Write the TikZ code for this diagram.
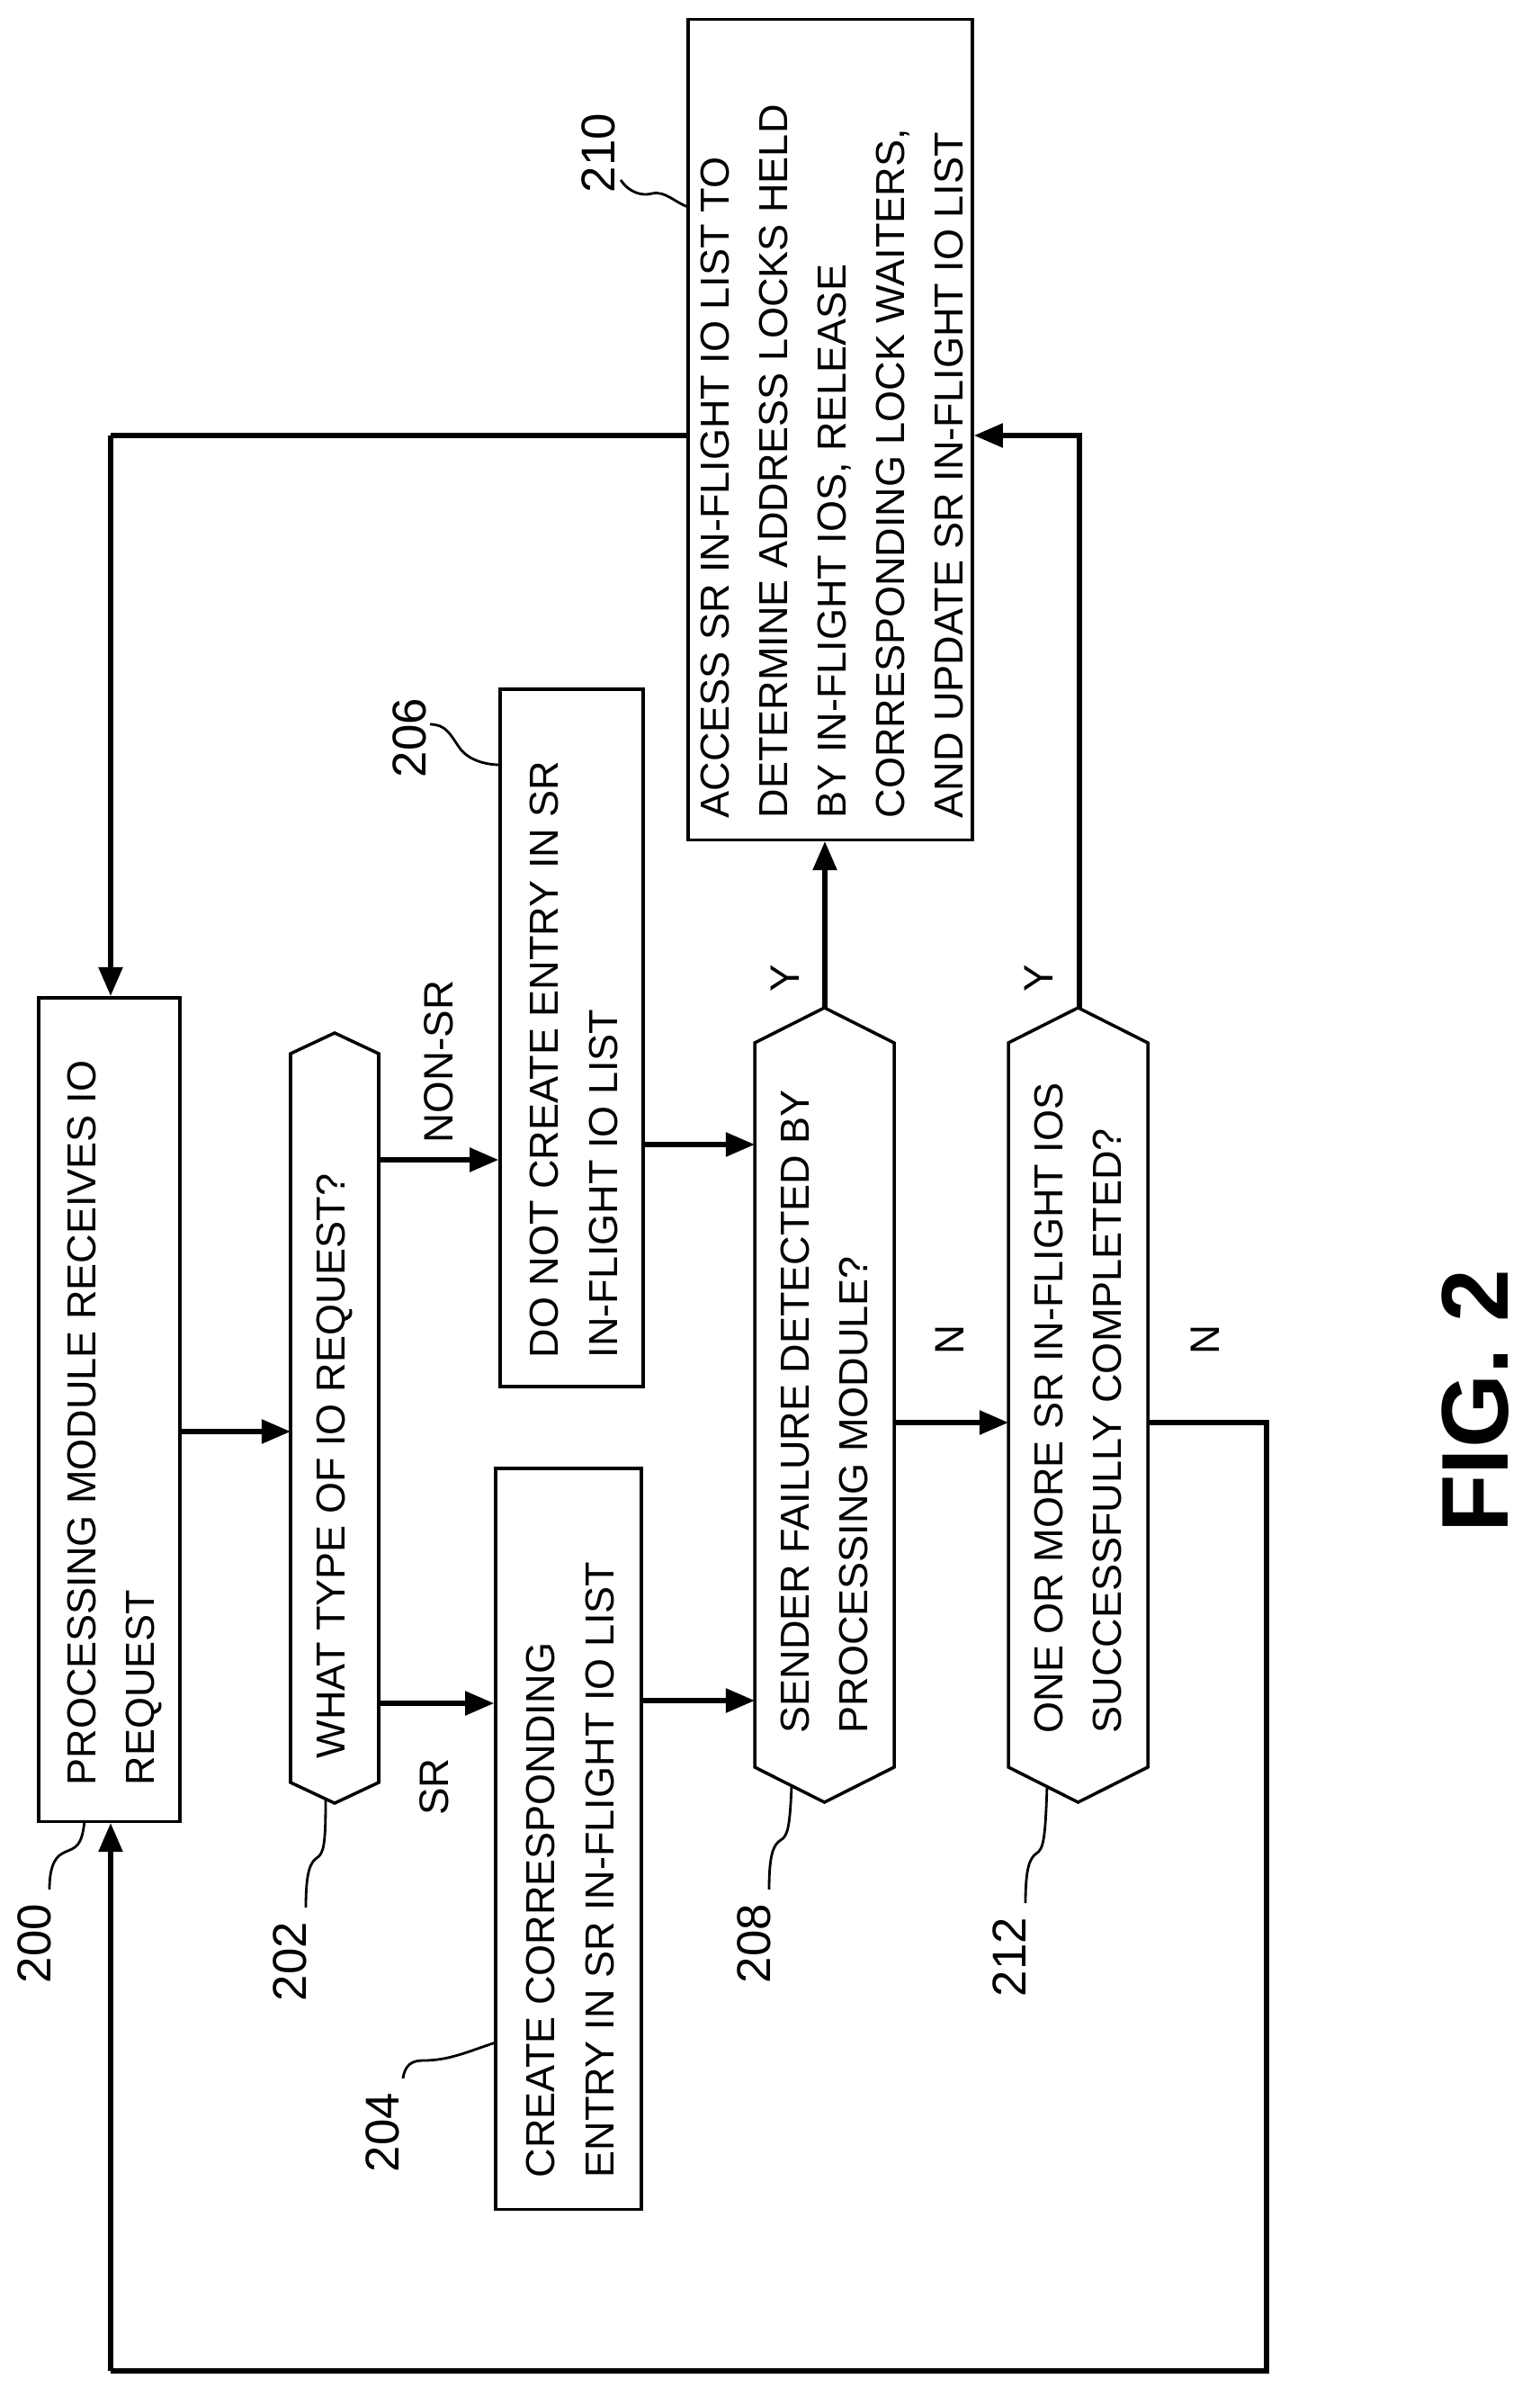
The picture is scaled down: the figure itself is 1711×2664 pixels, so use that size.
\documentclass[tikz,border=0pt]{standalone}
\usepackage{fontspec}
\setmainfont{Liberation Sans}
\usetikzlibrary{arrows.meta}
\begin{document}
\begin{tikzpicture}[x=0.01cm,y=-0.01cm,
  box/.style={draw,line width=1pt,inner sep=0pt},
  txt/.style={rotate=90,anchor=west,align=left,inner sep=0pt,font=\fontsize{12.8}{18.5}\selectfont},
  lbl/.style={rotate=90,inner sep=1pt,font=\fontsize{13}{15}\selectfont},
  num/.style={rotate=90,inner sep=1pt,font=\fontsize{15}{17}\selectfont},
  sq/.style={line width=0.8pt},
  arr/.style={line width=1.5pt,-{Triangle[length=0.32cm,width=0.26cm]}},
  ln/.style={line width=1.5pt}]
\useasboundingbox (0,0) rectangle (1711,2664);
% boxes
\node[box,minimum width=1.57cm,minimum height=9.15cm] (b200) at (121.5,1566.5) {};
\node[box,minimum width=1.62cm,minimum height=8.23cm] (b204) at (632,2043.5) {};
\node[box,minimum width=1.59cm,minimum height=7.75cm] (b206) at (635.5,1153.5) {};
\node[box,minimum width=3.16cm,minimum height=9.11cm] (b210) at (923,477.5) {};
% hexagons
\draw[line width=1pt] (323,1171) -- (372,1148) -- (421,1171) -- (421,1981) -- (372,2004) -- (323,1981) -- cycle;
\draw[line width=1pt] (839,1159) -- (916.5,1120) -- (994,1159) -- (994,1964) -- (916.5,2003) -- (839,1964) -- cycle;
\draw[line width=1pt] (1121,1159) -- (1198.5,1120) -- (1276,1159) -- (1276,1964) -- (1198.5,2003) -- (1121,1964) -- cycle;
% texts
\node[txt] (t200) at (128,1985) {PROCESSING MODULE RECEIVES IO\\REQUEST};
\node[txt] (t202) at (372,1955) {WHAT TYPE OF IO REQUEST?};
\node[txt] (t204) at (634,2421) {CREATE CORRESPONDING\\ENTRY IN SR IN-FLIGHT IO LIST};
\node[txt] (t206) at (638,1510) {DO NOT CREATE ENTRY IN SR\\IN-FLIGHT IO LIST};
\node[txt] (t208) at (916.5,1927) {SENDER FAILURE DETECTED BY\\PROCESSING MODULE?};
\node[txt] (t212) at (1198.5,1927) {ONE OR MORE SR IN-FLIGHT IOS\\SUCCESSFULLY COMPLETED?};
\node[txt] (t210) at (925,910) {ACCESS SR IN-FLIGHT IO LIST TO\\DETERMINE ADDRESS LOCKS HELD\\BY IN-FLIGHT IOS, RELEASE\\CORRESPONDING LOCK WAITERS,\\AND UPDATE SR IN-FLIGHT IO LIST};
% coordinates
\coordinate (h202w1) at (323,1591);
\coordinate (h202e1) at (421,1289);
\coordinate (h202e2) at (421,1893);
\coordinate (h208t) at (917,1120);
\coordinate (h212t) at (1200,1120);
\coordinate (c1) at (1200,484);
\coordinate (c2) at (123,484);
\coordinate (c3) at (1408,1581);
\coordinate (c4) at (1408,2635);
\coordinate (c5) at (123,2635);
% connectors
\draw[arr] (b200.east |- h202w1) -- (h202w1);
\draw[arr] (h202e1) -- (b206.west |- h202e1);
\draw[arr] (h202e2) -- (b204.west |- h202e2);
\draw[arr] (b206.east |- 0,1272) -- (839,1272);
\draw[arr] (b204.east |- 0,1890) -- (839,1890);
\draw[arr] (h208t) -- (h208t |- b210.south);
\draw[arr] (994,1581) -- (1121,1581);
\draw[arr] (h212t) -- (c1) -- (c1 -| b210.east);
\draw[ln] (1276,1581) -- (c3) -- (c4) -- (c5);
\draw[arr] (c5) -- (c5 |- b200.south);
\draw[ln] (b210.west |- c2) -- (c2);
\draw[arr] (c2) -- (c2 |- b200.north);
% connector labels
\node[lbl] (lnon) at (488,1180) {NON-SR};
\node[lbl] (lsr) at (483,1986) {SR};
\node[lbl] (ly1) at (873,1087) {Y};
\node[lbl] (ly2) at (1155,1087) {Y};
\node[lbl] (ln1) at (1056,1489) {N};
\node[lbl] (ln2) at (1340,1489) {N};
% reference numbers
\node[num] (n200) at (38,2160) {200};
\draw[sq] (55,2100) .. controls (55,2060) and (70,2060) .. (80,2055) .. controls (90,2050) and (92,2040) .. (94,2024);
\node[num] (n202) at (322,2180) {202};
\draw[sq] (340,2120) .. controls (340,2080) and (345,2070) .. (352,2065) .. controls (360,2060) and (362,2050) .. (362,2000);
\node[num] (n204) at (425,2370) {204};
\draw[sq] (448,2310) .. controls (450,2295) and (458,2290) .. (470,2290) .. controls (500,2290) and (520,2280) .. (551,2270);
\node[num] (n206) at (455,820) {206};
\draw[sq] (478,805) .. controls (495,805) and (500,815) .. (510,830) .. controls (520,845) and (540,850) .. (556,850);
\node[num] (n208) at (838,2160) {208};
\draw[sq] (855,2100) .. controls (855,2060) and (860,2050) .. (868,2045) .. controls (876,2040) and (878,2030) .. (880,1985);
\node[num] (n210) at (665,170) {210};
\draw[sq] (690,200) .. controls (700,215) and (715,218) .. (725,215) .. controls (740,212) and (750,225) .. (765,230);
\node[num] (n212) at (1122,2175) {212};
\draw[sq] (1140,2115) .. controls (1140,2075) and (1145,2065) .. (1152,2060) .. controls (1160,2055) and (1162,2045) .. (1164,1985);
% figure label
\node[rotate=90,font=\bfseries\fontsize{30}{34}\selectfont] (fig) at (1640,1557) {FIG. 2};
\end{tikzpicture}
\end{document}
